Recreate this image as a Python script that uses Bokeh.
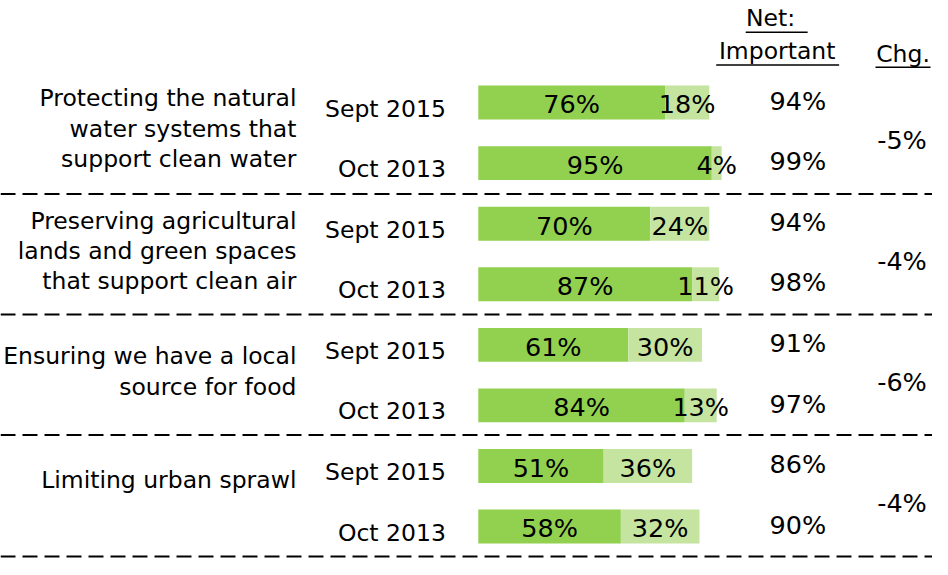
from bokeh.plotting import figure
from bokeh.models import Range1d, ColumnDataSource
from bokeh.core.properties import value
from bokeh.embed import file_html
from bokeh.resources import INLINE

# ---- data ----
topics = [
    ["Protecting the natural", "water systems that", "support clean water"],
    ["Preserving agricultural", "lands and green spaces", "that support clean air"],
    ["Ensuring we have a local", "source for food"],
    ["Limiting urban sprawl"],
]
waves = ["Sept 2015", "Oct 2013"]
very_important = [76, 95, 70, 87, 61, 84, 51, 58]
somewhat_important = [18, 4, 24, 11, 30, 13, 36, 32]
net_important = ["94%", "99%", "94%", "98%", "91%", "97%", "86%", "90%"]
change = ["-5%", "-4%", "-6%", "-4%"]

DARK = "#92D050"
LIGHT = "#C4E4A0"
FONT = "DejaVu Sans"
FS = "23.5px"
FSN = "25.5px"

n = len(very_important)
rows = list(range(n))

p = figure(width=932, height=559, output_backend="svg", toolbar_location=None,
           x_range=Range1d(-194.4, 184.8), y_range=Range1d(7.544, -1.685))
p.axis.visible = False
p.grid.visible = False
p.outline_line_color = None
p.background_fill_color = "white"
p.border_fill_color = "white"
p.min_border = 0

bh = 0.56
right2 = [a + b for a, b in zip(very_important, somewhat_important)]
p.hbar(y=rows, left=0, right=very_important, height=bh, fill_color=DARK, line_color=None)
p.hbar(y=rows, left=very_important, right=right2, height=bh, fill_color=LIGHT, line_color=None)

# segment labels
seg_src = ColumnDataSource(dict(
    x=[v / 2 for v in very_important] + [a + b / 2 for a, b in zip(very_important, somewhat_important)],
    y=[r + 0.03 for r in rows] * 2,
    t=[f"{v}%" for v in very_important] + [f"{v}%" for v in somewhat_important],
))
p.text(x="x", y="y", text="t", source=seg_src, text_align="center", text_baseline="middle",
       text_font=value(FONT), text_font_size=FSN, text_color="black")

# wave labels
p.text(x=[-13.2] * n, y=[r + 0.1 for r in rows], text=[waves[i % 2] for i in rows],
       text_align="right", text_baseline="middle", text_font=value(FONT),
       text_font_size=FS, text_color="black")

# net important
p.text(x=[130] * n, y=[r - 0.03 for r in rows], text=net_important,
       text_align="center", text_baseline="middle", text_font=value(FONT),
       text_font_size=FSN, text_color="black")

# change
p.text(x=[172.4] * len(change), y=[2 * g + 0.5 + 0.11 for g in range(len(change))], text=change,
       text_align="center", text_baseline="middle", text_font=value(FONT),
       text_font_size=FSN, text_color="black")

# topic labels (line positions per group)
line_y = [[-0.08, 0.433, 0.93], [1.95, 2.45, 2.95], [4.19, 4.69], [6.23]]
tx, ty, tt = [], [], []
for g, lines in enumerate(topics):
    for j, line in enumerate(lines):
        tx.append(-74)
        ty.append(line_y[g][j])
        tt.append(line)
p.text(x=tx, y=ty, text=tt, text_align="right", text_baseline="middle",
       text_font=value(FONT), text_font_size=FS, text_color="black")

# headers
p.text(x=[120.4, 121.6, 172.8], y=[-1.397, -0.85, -0.80], text=["Net: ", "Important", "Chg."],
       text_align="center", text_baseline="middle", text_font=value(FONT),
       text_font_size=FS, text_color="black")
p.segment(x0=[108.8, 96.8, 161.6], y0=[-1.16, -0.62, -0.585],
          x1=[134.0, 146.8, 184.0], y1=[-1.16, -0.62, -0.585], line_color="black", line_width=1.5)

# separators
seps = [1.509, 3.499, 5.49, 7.496]
p.segment(x0=[-194.4] * 4, y0=seps, x1=[184.8] * 4, y1=seps,
          line_color="black", line_width=2, line_dash="15 7")

open("out.html", "w").write(file_html(p, INLINE))
